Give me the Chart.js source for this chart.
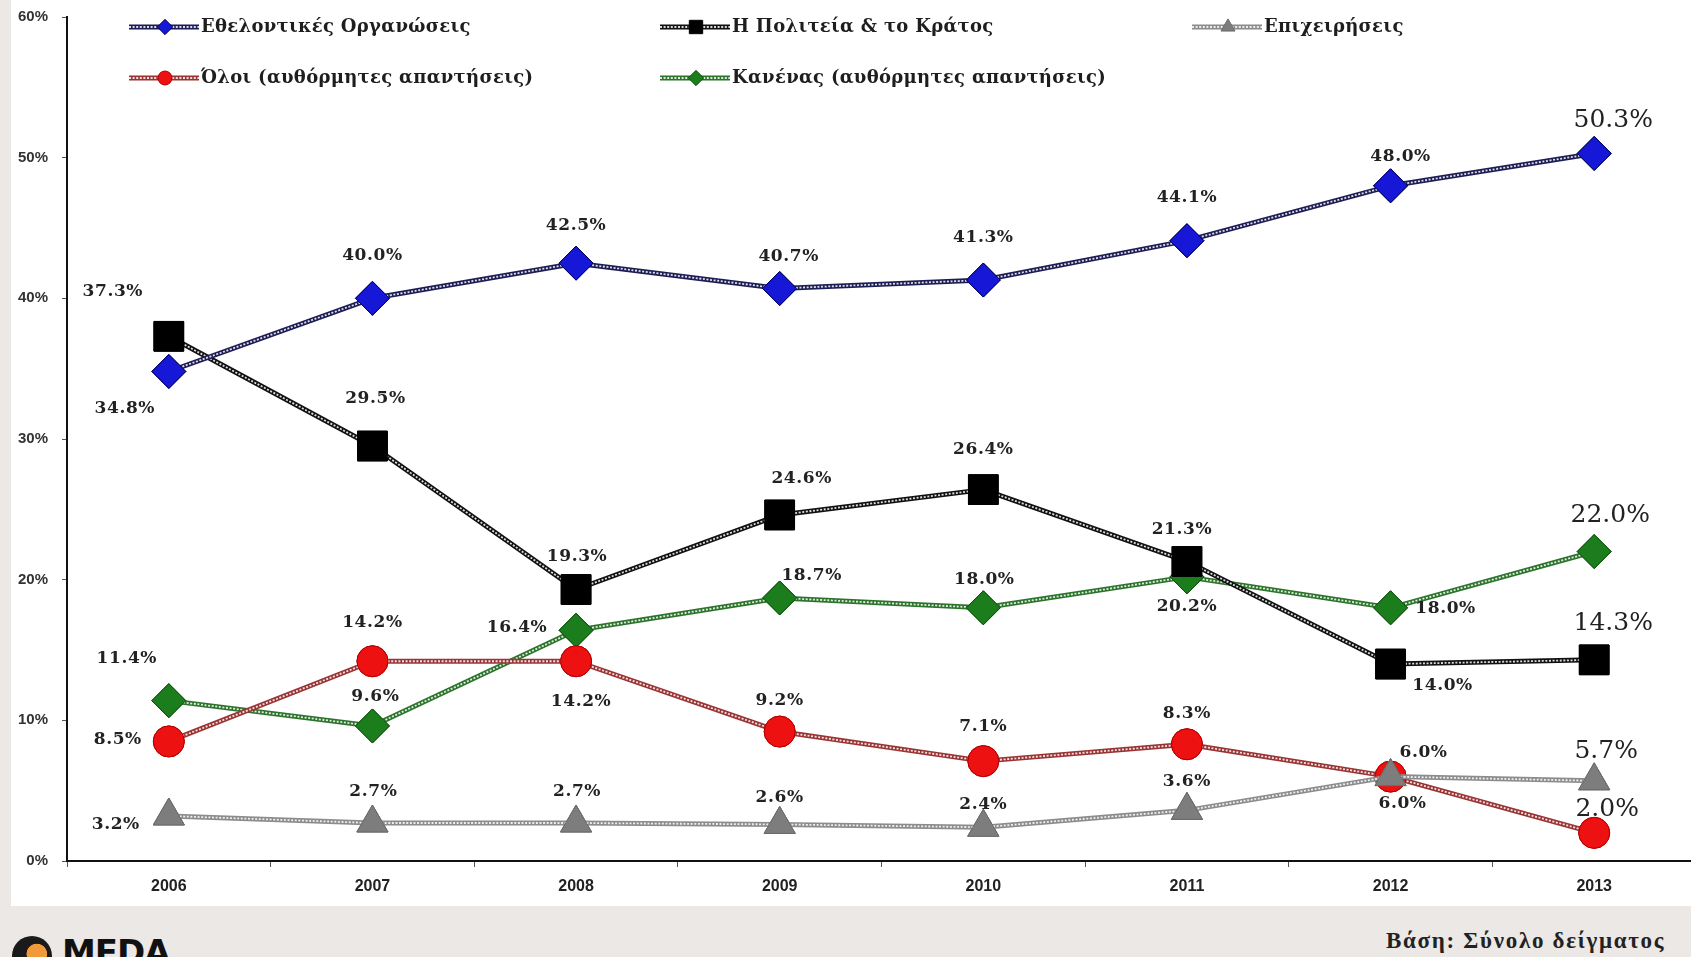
<!DOCTYPE html>
<html>
<head>
<meta charset="utf-8">
<script src="https://cdn.jsdelivr.net/npm/chart.js@4.4.1/dist/chart.umd.min.js"></script>
<style>
  html, body { margin: 0; padding: 0; }
  body {
    width: 1691px; height: 957px; overflow: hidden; position: relative;
    background: #ebe8e5; font-family: "DejaVu Serif", serif;
  }
  #panel { position: absolute; left: 11px; top: 0; width: 1690px; height: 906px; background: #fff; }
  #wrap { position: absolute; left: 0; top: 0; width: 1707px; height: 906px; }
  #base {
    position: absolute; left: 1386px; top: 928px; font: bold 23px "Liberation Serif", serif;
    color: #222; white-space: nowrap; letter-spacing: 1.7px;
  }
  #logo { position: absolute; left: 12px; top: 936px; height: 40px; }
  #logo .disc {
    position: absolute; left: 0; top: 0; width: 40px; height: 40px; border-radius: 50%;
    background: radial-gradient(circle at 62% 45%, #f09a3a 0 30%, #1a1a1a 32%);
  }
  #logo .word {
    position: absolute; left: 50px; top: -4px; font: 900 34px "DejaVu Sans", sans-serif;
    color: #111; letter-spacing: -1px;
  }
</style>
</head>
<body>
<div id="panel"></div>
<div id="wrap"><canvas id="trustChart" width="1707" height="906"></canvas></div>
<div id="logo"><div class="disc"></div><div class="word">MEDA</div></div>
<div id="base">Βάση: Σύνολο δείγματος</div>

<script>
// survey years
const years = ["2006", "2007", "2008", "2009", "2010", "2011", "2012", "2013"];

// percentages per answer
const volunteerOrgs = [34.8, 40.0, 42.5, 40.7, 41.3, 44.1, 48.0, 50.3];
const stateGov = [37.3, 29.5, 19.3, 24.6, 26.4, 21.3, 14.0, 14.3];
const businesses = [3.2, 2.7, 2.7, 2.6, 2.4, 3.6, 6.0, 5.7];
const everyone = [8.5, 14.2, 14.2, 9.2, 7.1, 8.3, 6.0, 2.0];
const nobody = [11.4, 9.6, 16.4, 18.7, 18.0, 20.2, 18.0, 22.0];

const seriesNames = [
  "Εθελοντικές Οργανώσεις",
  "Η Πολιτεία & το Κράτος",
  "Επιχειρήσεις",
  "Όλοι (αυθόρμητες απαντήσεις)",
  "Κανένας (αυθόρμητες απαντήσεις)"
];

const yMax = 60;
const yStep = 10;

// where each value label sits relative to its marker (dx, dy)
const labelNudge = [
  [[-44, 37], [0, -43], [0, -38], [9, -32], [0, -42], [0, -43], [10, -29], [19, -33]],
  [[-56, -45], [3, -47], [1, -33], [22, -36], [0, -40], [-5, -32], [52, 22], [19, -36]],
  [[-53, 9], [1, -31], [1, -31], [0, -27], [0, -23], [0, -29], [12, 27], [12, -29]],
  [[-51, -2], [0, -39], [5, 40], [0, -31], [0, -35], [0, -31], [33, -24], [13, -23]],
  [[-42, -42], [3, -29], [-59, -3], [32, -22], [1, -28], [0, 30], [55, 1], [16, -36]]
];

// legend slots: [x, y]
const legendSlots = [[129, 27], [660, 27], [1192, 27], [129, 78], [660, 78]];

const styles = [
  { line: "#1d1d55", fill: "#1717d8", edge: "#00005a", shape: "rectRot", r: 17 },
  { line: "#111111", fill: "#000000", edge: "#000000", shape: "rect", r: 21 },
  { line: "#8c8c8c", fill: "#7d7d7d", edge: "#6a6a6a", shape: "triangle", r: 18 },
  { line: "#9a3434", fill: "#ee1111", edge: "#b00000", shape: "circle", r: 15.5 },
  { line: "#2c742c", fill: "#1c7d1c", edge: "#0d4f0d", shape: "rectRot", r: 17 }
];

const seriesData = [volunteerOrgs, stateGov, businesses, everyone, nobody];

// white dashes on top of a thick stroke give the chain-like line
function strokeChain(ctx, pts, color) {
  ctx.save();
  ctx.lineJoin = "round";
  ctx.beginPath();
  pts.forEach((p, i) => (i ? ctx.lineTo(p.x, p.y) : ctx.moveTo(p.x, p.y)));
  ctx.strokeStyle = color;
  ctx.lineWidth = 5;
  ctx.stroke();
  ctx.setLineDash([2, 1.6]);
  ctx.strokeStyle = "rgba(255,255,255,0.85)";
  ctx.lineWidth = 1.8;
  ctx.stroke();
  ctx.restore();
}

const chainLines = {
  id: "chainLines",
  afterDatasetDraw(chart, args) {
    const meta = args.meta;
    const ctx = chart.ctx;
    strokeChain(ctx, meta.data, styles[args.index].line);
    meta.data.forEach((pt) => pt.draw(ctx, chart.chartArea));
  }
};

const valueLabels = {
  id: "valueLabels",
  afterDatasetsDraw(chart) {
    const ctx = chart.ctx;
    ctx.save();
    ctx.fillStyle = "#222";
    ctx.textAlign = "center";
    ctx.textBaseline = "middle";
    chart.data.datasets.forEach((ds, di) => {
      const meta = chart.getDatasetMeta(di);
      meta.data.forEach((pt, i) => {
        const last = i === ds.data.length - 1;
        ctx.font = last ? "25px 'DejaVu Serif'" : "bold 17px 'DejaVu Serif'";
        ctx.letterSpacing = last ? "0px" : "0.6px";
        const [dx, dy] = labelNudge[di][i];
        ctx.fillText(ds.data[i].toFixed(1) + "%", pt.x + dx, pt.y + dy);
      });
    });
    ctx.restore();
  }
};

const slotLegend = {
  id: "slotLegend",
  afterDraw(chart) {
    const ctx = chart.ctx;
    chart.data.datasets.forEach((ds, di) => {
      const [x, y] = legendSlots[di];
      const st = styles[di];
      strokeChain(ctx, [{ x: x, y: y }, { x: x + 70, y: y }], st.line);
      ctx.save();
      ctx.fillStyle = st.fill;
      ctx.strokeStyle = st.edge;
      ctx.lineWidth = 1;
      Chart.helpers.drawPoint(ctx, { pointStyle: st.shape, radius: st.r * 0.45, rotation: 0, borderWidth: 1 }, x + 36, y);
      ctx.restore();
      ctx.save();
      ctx.font = "bold 18px 'DejaVu Serif'";
      ctx.letterSpacing = "0.3px";
      ctx.fillStyle = "#1e1e1e";
      ctx.textBaseline = "middle";
      ctx.fillText(ds.label, x + 72, y);
      ctx.restore();
    });
  }
};

const datasets = seriesData.map((values, i) => ({
  label: seriesNames[i],
  data: values,
  borderColor: "rgba(0,0,0,0)",
  borderWidth: 0,
  pointStyle: styles[i].shape,
  pointRadius: styles[i].r,
  pointHoverRadius: styles[i].r,
  pointBackgroundColor: styles[i].fill,
  pointBorderColor: styles[i].edge,
  pointBorderWidth: 1,
  tension: 0
}));

new Chart(document.getElementById("trustChart"), {
  type: "line",
  data: { labels: years, datasets },
  plugins: [chainLines, valueLabels, slotLegend],
  options: {
    responsive: false,
    animation: false,
    events: [],
    layout: { autoPadding: false, padding: { top: 17, right: 11, left: 0, bottom: 0 } },
    plugins: { legend: { display: false }, tooltip: { enabled: false } },
    scales: {
      x: {
        offset: true,
        afterFit: (s) => { s.height = 45; s.paddingLeft = 0; s.paddingRight = 0; },
        border: { display: true, color: "#111", width: 2 },
        grid: { offset: true, drawOnChartArea: false, drawTicks: true, tickLength: 6, color: "#555" },
        ticks: {
          color: "#222", padding: 10, maxRotation: 0,
          font: { family: "Liberation Sans", size: 16, weight: "bold" }
        }
      },
      y: {
        min: 0,
        max: yMax,
        afterFit: (s) => { s.width = 67; s.paddingTop = 0; s.paddingBottom = 0; },
        border: { display: true, color: "#111", width: 2 },
        grid: { drawOnChartArea: false, drawTicks: true, tickLength: 5, color: "#555" },
        ticks: {
          stepSize: yStep, color: "#333", padding: 14,
          font: { family: "Liberation Sans", size: 15, weight: "bold" },
          callback: (v) => v + "%"
        }
      }
    }
  }
});
</script>
</body>
</html>
